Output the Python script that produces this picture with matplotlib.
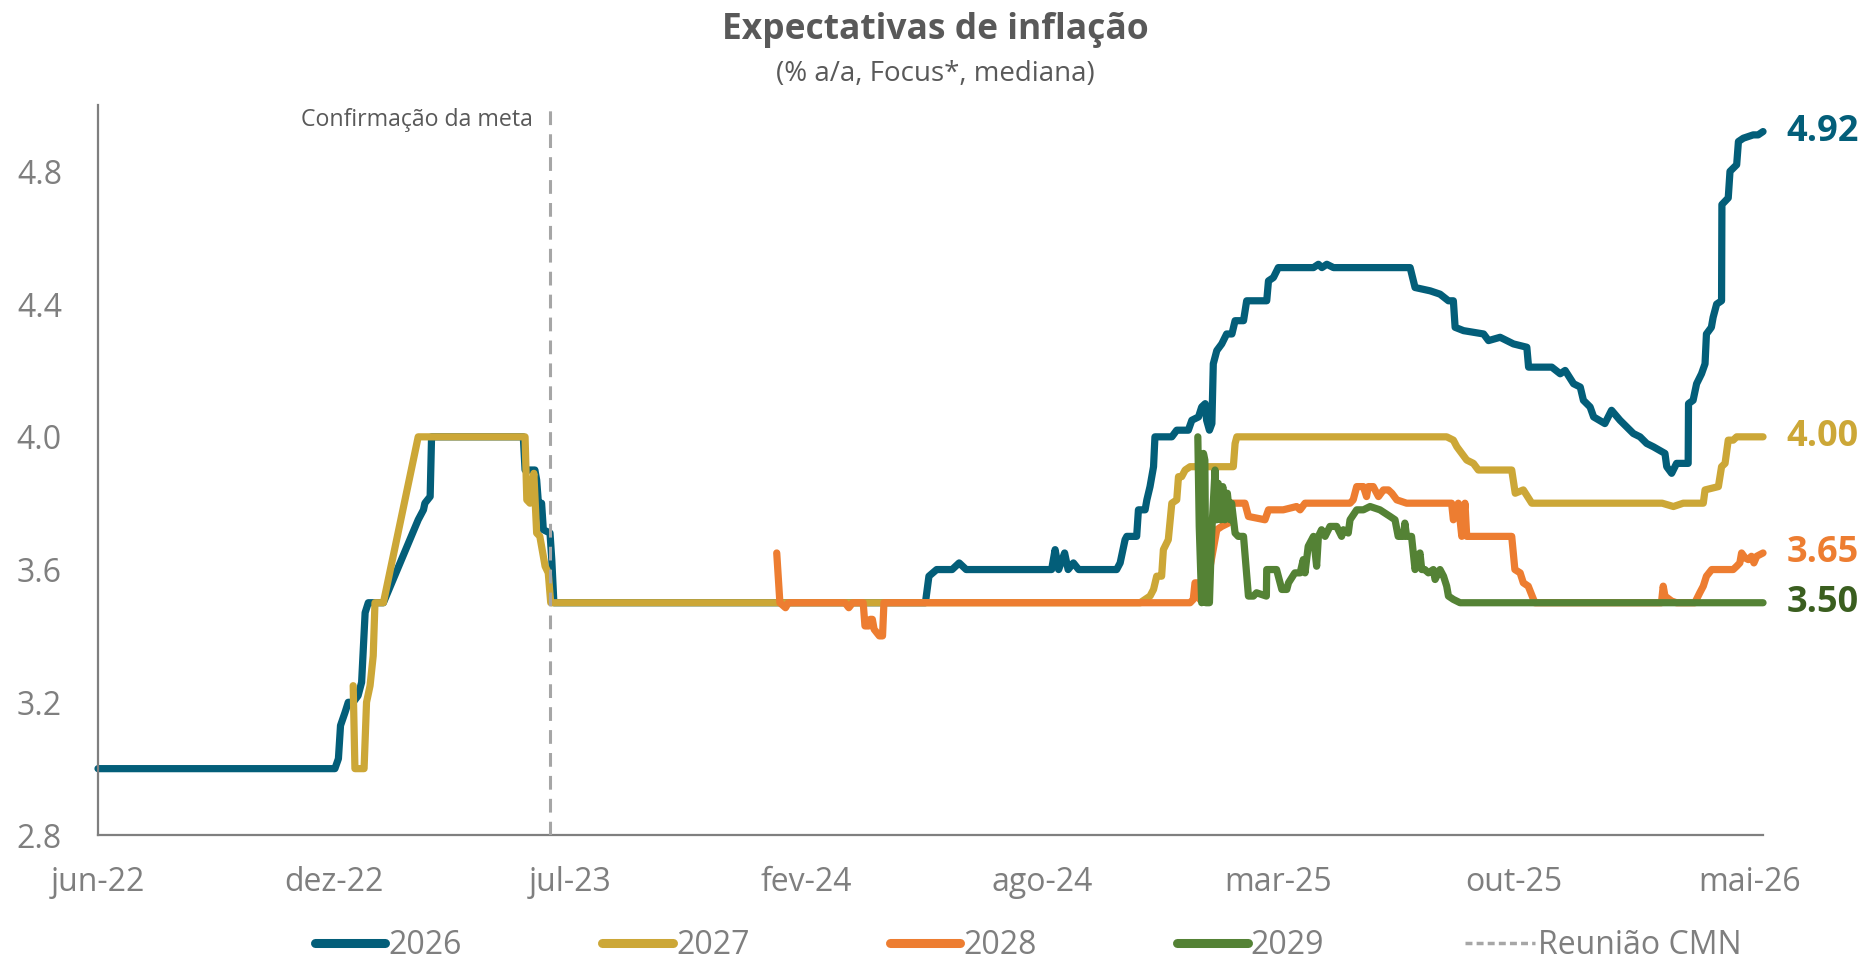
import matplotlib

matplotlib.use("Agg")
import matplotlib.pyplot as plt
from matplotlib.lines import Line2D
import numpy as np

plt.rcParams["font.family"] = ["Open Sans", "DejaVu Sans"]

GREY = "#7f7f7f"
TEXT = "#595959"
C2026 = "#035e79"
C2027 = "#cca737"
C2028 = "#ed7d31"
C2029 = "#548235"
C2029_LABEL = "#3a5e1f"
CMN = "#a6a6a6"

# x = months since jun-22 (axis is evenly spaced, 8 labels from jun-22 to mai-26)
XTICK_LABELS = ["jun-22", "dez-22", "jul-23", "fev-24", "ago-24", "mar-25", "out-25", "mai-26"]
X_END = 47.37
CMN_MEETING = 12.86

T_2026 = [0, 6.6, 6.74, 6.84, 6.9, 7.03, 7.12, 7.26, 7.4, 7.5, 7.6, 7.69, 8.12, 9.11, 9.16,
          9.26, 9.3, 9.45, 9.49, 12.1, 12.15, 12.43, 12.48, 12.53, 12.62, 12.67, 12.86, 12.91,
          12.97, 23.54, 23.64, 23.86, 24.3, 24.5, 24.7, 27.13, 27.23, 27.33, 27.5, 27.6, 27.75,
          27.9, 28.98, 29.08, 29.22, 29.27, 29.55, 29.6, 29.79, 29.84, 29.93, 30.03, 30.07,
          30.55, 30.69, 31.02, 31.12, 31.31, 31.4, 31.5, 31.54, 31.62, 31.69, 31.73, 31.83,
          31.97, 32.11, 32.26, 32.35, 32.59, 32.68, 33.25, 33.3, 33.44, 33.58, 34.58, 34.72,
          34.82, 34.96, 35.15, 37.33, 37.47, 37.9, 38.18, 38.42, 38.56, 38.61, 38.85, 39.42,
          39.56, 39.89, 40.27, 40.65, 40.7, 41.36, 41.6, 41.74, 41.98, 42.17, 42.26, 42.45,
          42.55, 42.87, 43.06, 43.3, 43.49, 43.68, 43.87, 44.06, 44.25, 44.58, 44.63, 44.77,
          44.91, 45.24, 45.25, 45.38, 45.48, 45.62, 45.72, 45.76, 45.9, 45.95, 46.05, 46.19,
          46.2, 46.38, 46.43, 46.62, 46.67, 46.81, 47.09, 47.23, 47.37]
V_2026 = [3.00, 3.00, 3.00, 3.03, 3.13, 3.17, 3.20, 3.20, 3.22, 3.26, 3.47, 3.50, 3.50, 3.75, 3.76,
          3.78, 3.80, 3.82, 4.00, 4.00, 3.90, 3.90, 3.87, 3.80, 3.80, 3.72, 3.71, 3.63,
          3.50, 3.50, 3.58, 3.60, 3.60, 3.62, 3.60, 3.60, 3.66, 3.60, 3.65, 3.60, 3.62,
          3.60, 3.60, 3.62, 3.69, 3.70, 3.70, 3.78, 3.78, 3.81, 3.85, 3.91, 4.00,
          4.00, 4.02, 4.02, 4.05, 4.06, 4.09, 4.10, 4.05, 4.02, 4.04, 4.22, 4.26,
          4.28, 4.31, 4.31, 4.35, 4.35, 4.41, 4.41, 4.47, 4.48, 4.51, 4.51, 4.52,
          4.51, 4.52, 4.51, 4.51, 4.45, 4.44, 4.43, 4.41, 4.41, 4.33, 4.32, 4.31,
          4.29, 4.30, 4.28, 4.27, 4.21, 4.21, 4.19, 4.20, 4.16, 4.15, 4.11, 4.09,
          4.06, 4.04, 4.08, 4.05, 4.03, 4.01, 4.00, 3.98, 3.97, 3.95, 3.91, 3.89,
          3.92, 3.92, 4.10, 4.11, 4.16, 4.19, 4.22, 4.31, 4.33, 4.36, 4.40, 4.41,
          4.70, 4.72, 4.80, 4.82, 4.89, 4.90, 4.91, 4.91, 4.92]

T_2027 = [7.26, 7.31, 7.57, 7.64, 7.74, 7.83, 7.88, 8.12, 9.11, 12.15, 12.2, 12.29, 12.4, 12.48,
          12.57, 12.62, 12.72, 12.81, 12.88, 29.65, 29.93, 30.03, 30.12, 30.26, 30.31, 30.45,
          30.55, 30.69, 30.74, 30.83, 30.93, 31.07, 32.3, 32.35, 32.4, 38.37, 38.56, 38.66,
          38.8, 38.94, 39.13, 39.27, 40.22, 40.32, 40.55, 40.79, 44.1, 44.5, 44.82, 45.1,
          45.67, 45.72, 46.1, 46.19, 46.29, 46.38, 46.52, 46.62, 47.37]
V_2027 = [3.25, 3.00, 3.00, 3.20, 3.25, 3.34, 3.50, 3.50, 4.00, 4.00, 3.81, 3.80, 3.89, 3.71,
          3.70, 3.67, 3.61, 3.59, 3.50, 3.50, 3.52, 3.54, 3.58, 3.58, 3.66, 3.69,
          3.80, 3.81, 3.88, 3.88, 3.90, 3.91, 3.91, 3.98, 4.00, 4.00, 3.99, 3.97,
          3.95, 3.93, 3.92, 3.90, 3.90, 3.83, 3.84, 3.80, 3.80, 3.80, 3.79, 3.80,
          3.80, 3.84, 3.85, 3.91, 3.92, 3.99, 3.99, 4.00, 4.00]

T_2028 = [19.31, 19.4, 19.56, 19.64, 21.25, 21.36, 21.47, 21.77, 21.82, 21.93, 21.97, 22.03,
          22.08, 22.23, 22.32, 22.36, 31.07, 31.16, 31.21, 31.3, 31.35, 31.59, 31.83, 31.97,
          32.16, 32.21, 32.63, 32.73, 33.2, 33.3, 33.72, 34.1, 34.2, 34.34, 35.62, 35.71,
          35.81, 36.0, 36.09, 36.14, 36.28, 36.43, 36.57, 36.71, 36.81, 36.95, 37.23, 38.51,
          38.56, 38.7, 38.8, 38.89, 38.94, 40.22, 40.31, 40.46, 40.55, 40.69, 40.84, 40.88,
          44.48, 44.53, 44.58, 44.77, 44.91, 45.43, 45.57, 45.67, 45.76, 45.91, 46.52, 46.62,
          46.71, 46.76, 46.86, 46.95, 47.04, 47.11, 47.19, 47.37]
V_2028 = [3.65, 3.50, 3.485, 3.50, 3.50, 3.485, 3.50, 3.50, 3.43, 3.43, 3.45, 3.45,
          3.42, 3.40, 3.40, 3.50, 3.50, 3.51, 3.56, 3.56, 3.51, 3.58, 3.72, 3.73,
          3.74, 3.80, 3.80, 3.76, 3.75, 3.78, 3.78, 3.79, 3.78, 3.80, 3.80, 3.81,
          3.85, 3.85, 3.82, 3.85, 3.85, 3.82, 3.84, 3.84, 3.83, 3.81, 3.80, 3.80,
          3.75, 3.80, 3.70, 3.80, 3.70, 3.70, 3.60, 3.59, 3.56, 3.55, 3.51, 3.50,
          3.50, 3.55, 3.52, 3.505, 3.50, 3.50, 3.53, 3.55, 3.58, 3.60, 3.60, 3.61,
          3.62, 3.65, 3.635, 3.63, 3.64, 3.62, 3.64, 3.65]

T_2029 = [31.29, 31.33, 31.4, 31.45, 31.49, 31.52, 31.62, 31.68, 31.78, 31.83, 31.87, 31.94,
          32.0, 32.06, 32.13, 32.21, 32.25, 32.35, 32.44, 32.59, 32.73, 32.87, 32.96, 33.24,
          33.25, 33.53, 33.68, 33.82, 33.87, 34.05, 34.2, 34.29, 34.34, 34.43, 34.58, 34.67,
          34.72, 34.81, 34.91, 35.05, 35.24, 35.38, 35.43, 35.57, 35.62, 35.81, 36.0, 36.19,
          36.47, 36.76, 36.9, 36.99, 37.14, 37.18, 37.23, 37.37, 37.47, 37.61, 37.66, 37.75,
          37.85, 37.99, 38.04, 38.18, 38.28, 38.37, 38.42, 38.56, 38.75, 38.89, 47.37]
V_2029 = [4.00, 3.73, 3.50, 3.95, 3.93, 3.50, 3.50, 3.70, 3.90, 3.75, 3.86, 3.75,
          3.85, 3.75, 3.83, 3.75, 3.80, 3.71, 3.70, 3.70, 3.52, 3.52, 3.53, 3.52,
          3.60, 3.60, 3.54, 3.54, 3.56, 3.59, 3.59, 3.63, 3.59, 3.67, 3.70, 3.61,
          3.70, 3.72, 3.70, 3.73, 3.73, 3.70, 3.72, 3.71, 3.75, 3.78, 3.78, 3.79,
          3.78, 3.76, 3.75, 3.70, 3.70, 3.74, 3.70, 3.70, 3.60, 3.65, 3.60, 3.60,
          3.59, 3.60, 3.57, 3.60, 3.58, 3.55, 3.52, 3.51, 3.50, 3.50, 3.50]

SERIES = [("2026", T_2026, V_2026, C2026, C2026),
          ("2027", T_2027, V_2027, C2027, C2027),
          ("2028", T_2028, V_2028, C2028, C2028),
          ("2029", T_2029, V_2029, C2029, C2029_LABEL)]


def main() -> None:
    fig = plt.figure(figsize=(18.7, 9.67), dpi=100)
    ax = fig.add_axes([0.0524, 0.1365, 0.8904, 0.7549])

    for name, t, v, color, lab_color in SERIES:
        ax.plot(t, v, color=color, linewidth=5.2, solid_joinstyle="round",
                solid_capstyle="round", label=name, clip_on=False)
        ax.annotate(f"{v[-1]:.2f}", xy=(t[-1], v[-1]), xytext=(17, 0),
                    textcoords="offset points", ha="left", va="center",
                    fontsize=26, fontweight="bold", color=lab_color)

    ax.axvline(CMN_MEETING, color=CMN, linewidth=2.2, linestyle=(0, (4.5, 3)), zorder=5)
    ax.text(CMN_MEETING - 0.5, 4.955, "Confirmação da meta", ha="right", va="center",
            fontsize=16.7, color=TEXT)

    ax.set_xlim(0, X_END)
    ax.set_ylim(2.8, 5.0)
    ax.set_xticks(np.linspace(0, 47, len(XTICK_LABELS)))
    ax.set_xticklabels(XTICK_LABELS)
    ax.set_yticks(np.arange(2.8, 4.81, 0.4))
    ax.set_yticklabels([f"{y:.1f}" for y in np.arange(2.8, 4.81, 0.4)])
    ax.tick_params(axis="both", length=0, labelsize=23, labelcolor=GREY)
    ax.tick_params(axis="y", pad=26)
    ax.tick_params(axis="x", pad=22)
    for side in ("top", "right"):
        ax.spines[side].set_visible(False)
    for side in ("left", "bottom"):
        ax.spines[side].set_color(GREY)
        ax.spines[side].set_linewidth(1.6)

    fig.text(0.5, 1 - 30 / 967, "Expectativas de inflação", ha="center", va="center",
             fontsize=25.5, fontweight="bold", color=TEXT)
    fig.text(0.5, 1 - 74 / 967, "(% a/a, Focus*, mediana)", ha="center", va="center",
             fontsize=20, color=TEXT)

    handles = [Line2D([], [], color=c, linewidth=6.5, solid_capstyle="round")
               for _, _, _, c, _ in SERIES]
    handles.append(Line2D([], [], color=CMN, linewidth=2.5, linestyle=(0, (2, 1.2))))
    labels = [s[0] for s in SERIES] + ["Reunião CMN"]
    fig.legend(handles, labels, loc="center", bbox_to_anchor=(0.55, 0.022), ncol=5,
               frameon=False, fontsize=23, labelcolor=GREY, handlelength=2.2,
               handletextpad=0.1, columnspacing=4.4, borderpad=0.1)

    fig.savefig("out.png", dpi=100, facecolor="white")


if __name__ == "__main__":
    main()
